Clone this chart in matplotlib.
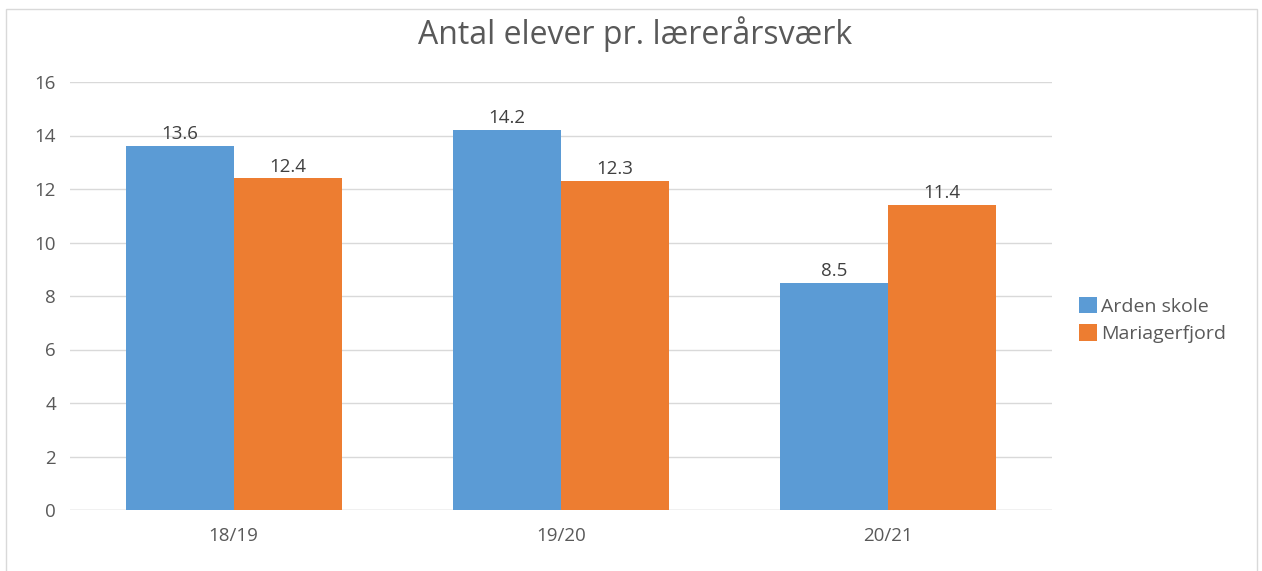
import numpy as np
import matplotlib
matplotlib.use('Agg')
import matplotlib.pyplot as plt
import matplotlib.patches as patches

years = ['18/19', '19/20', '20/21']
arden = [13.6, 14.2, 8.5]
mariagerfjord = [12.4, 12.3, 11.4]
yticks = [0, 2, 4, 6, 8, 10, 12, 14, 16]

blue = '#5b9bd5'
orange = '#ed7d31'
txt = '#595959'

plt.rcParams['font.family'] = ['Open Sans', 'DejaVu Sans']

W, H = 1262, 571
fig = plt.figure(figsize=(W / 100, H / 100), dpi=100)
ax = fig.add_axes([70 / W, 1 - 510 / H, (1052 - 70) / W, (510 - 82) / H])

# light frame round the chart
fig.patches.append(patches.Rectangle((6 / W, -0.05), (1257 - 6) / W, 1 - 9 / H + 0.05,
                                     transform=fig.transFigure, fill=False,
                                     edgecolor='#d9d9d9', linewidth=1))

x = np.arange(len(years))
w = 0.33
b1 = ax.bar(x - w / 2, arden, w, color=blue, label='Arden skole', zorder=2)
b2 = ax.bar(x + w / 2, mariagerfjord, w, color=orange, label='Mariagerfjord', zorder=2)

for bars in (b1, b2):
    for r in bars:
        ax.annotate(f'{r.get_height():.1f}', (r.get_x() + r.get_width() / 2, r.get_height()),
                    xytext=(0, 2), textcoords='offset points', ha='center', va='bottom',
                    fontsize=13.5, color='#404040')

ax.set_xlim(-0.5, 2.5)
ax.set_ylim(0, 16)
ax.set_yticks(yticks)
ax.set_xticks(x)
ax.set_xticklabels(years)
ax.tick_params(length=0, labelsize=13.5, labelcolor=txt, pad=10)
ax.tick_params(axis='x', pad=12)
ax.yaxis.grid(True, color='#d9d9d9', linewidth=1, zorder=0)
for s in ax.spines.values():
    s.set_visible(False)
ax.axhline(0, color='#d9d9d9', linewidth=1, zorder=1)

fig.text(635 / W, 1 - 34 / H, 'Antal elever pr. lærerårsværk', ha='center', va='center',
         fontsize=23, color=txt)

fig.legend(loc='center left', bbox_to_anchor=(1061 / W, 1 - 320 / H), frameon=False,
           fontsize=14, labelcolor=txt, handlelength=0.95, handleheight=0.95,
           handletextpad=0.2, labelspacing=0.45)

fig.savefig('out.png', dpi=100)
